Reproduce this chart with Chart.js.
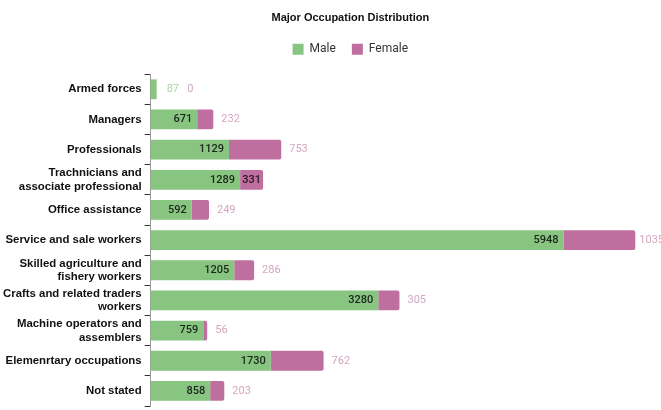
<!DOCTYPE html>
<html>
<head>
<meta charset="utf-8">
<title>Major Occupation Distribution</title>
<script src="https://cdn.jsdelivr.net/npm/chart.js@4.4.1/dist/chart.umd.min.js"></script>
<style>
  html, body { margin: 0; padding: 0; background: #fff; }
  #wrap { width: 661px; height: 410px; position: relative; }
</style>
</head>
<body>
<div id="wrap"><canvas id="occChart"></canvas></div>
<script>
const categories = [
  'Armed forces',
  'Managers',
  'Professionals',
  ['Trachnicians and', 'associate professional'],
  'Office assistance',
  'Service and sale workers',
  ['Skilled agriculture and', 'fishery workers'],
  ['Crafts and related traders', 'workers'],
  ['Machine operators and', 'assemblers'],
  'Elemenrtary occupations',
  'Not stated'
];
const maleValues = [87, 671, 1129, 1289, 592, 5948, 1205, 3280, 759, 1730, 858];
const femaleValues = [0, 232, 753, 331, 249, 1035, 286, 305, 56, 762, 203];

const GREEN = '#87c580';
const PINK = '#be6f9f';

// value labels: male at the inner end of its segment, female just past the bar
const valueLabels = {
  id: 'valueLabels',
  beforeInit(chart) {
    // extra room under the legend
    const fit = chart.legend.fit;
    chart.legend.fit = function () {
      fit.bind(chart.legend)();
      this.height += 9;
    };
  },
  afterDatasetsDraw(chart) {
    const c = chart.ctx;
    const maleMeta = chart.getDatasetMeta(0);
    const femaleMeta = chart.getDatasetMeta(1);
    const femaleInside = new Set([3]);
    c.save();
    c.textBaseline = 'middle';
    maleMeta.data.forEach((bar, i) => {
      c.font = '500 11px Roboto';
      const mText = String(maleValues[i]);
      const mw = c.measureText(mText).width;
      let maleRight;
      if (bar.x - bar.base >= mw + 10) {
        c.fillStyle = '#1d261c';
        c.textAlign = 'right';
        c.fillText(mText, bar.x - 5, bar.y);
        maleRight = bar.x;
      } else {
        c.font = '11px Roboto';
        c.fillStyle = '#a9d6a4';
        c.textAlign = 'left';
        c.fillText(mText, bar.x + 10, bar.y);
        maleRight = bar.x + 10 + mw;
      }
      const fb = femaleMeta.data[i];
      const fText = String(femaleValues[i]);
      if (femaleInside.has(i)) {
        c.font = '500 11px Roboto';
        c.fillStyle = '#2a1822';
        c.textAlign = 'center';
        c.fillText(fText, (fb.x + fb.base) / 2, fb.y);
      } else {
        c.font = '11px Roboto';
        const fw = c.measureText(fText).width;
        let x = Math.max(fb.x + 8, maleRight + 8);
        x = Math.min(x, chart.width - fw + 3);
        c.fillStyle = '#d4a6c0';
        c.textAlign = 'left';
        c.fillText(fText, x, fb.y);
      }
    });
    c.restore();
  }
};

const occChart = new Chart(document.getElementById('occChart'), {
  type: 'bar',
  data: {
    labels: categories,
    datasets: [
      {
        label: 'Male',
        data: maleValues,
        backgroundColor: GREEN,
        borderWidth: 0,
        clip: false
      },
      {
        label: 'Female',
        data: femaleValues,
        backgroundColor: PINK,
        borderWidth: 0,
        borderRadius: 2,
        borderSkipped: 'start',
        clip: false
      }
    ]
  },
  options: {
    indexAxis: 'y',
    responsive: true,
    maintainAspectRatio: false,
    animation: false,
    barPercentage: 0.8,
    categoryPercentage: 0.82,
    layout: { padding: { top: 0, right: 111, bottom: 4, left: 0 } },
    scales: {
      x: {
        stacked: true,
        display: false,
        min: 0,
        max: 5754
      },
      y: {
        stacked: true,
        afterFit(scale) {
          scale.paddingTop = 0;
          scale.paddingBottom = 0;
        },
        border: { display: true, color: '#9a9a9a', width: 1 },
        grid: { drawOnChartArea: false, tickLength: 6, color: '#333' },
        ticks: {
          color: '#111',
          padding: 3,
          autoSkip: false,
          font: { family: 'Liberation Sans', size: 11.4, weight: 'bold' }
        }
      }
    },
    plugins: {
      title: {
        display: true,
        text: 'Major Occupation Distribution',
        fullSize: false,
        color: '#111',
        font: { family: 'Liberation Sans', size: 11, weight: 'bold' },
        padding: { top: 11, bottom: 3 }
      },
      legend: {
        fullSize: false,
        labels: {
          boxWidth: 11,
          boxHeight: 11,
          color: '#333',
          padding: 16,
          font: { family: 'Roboto', size: 12 }
        }
      },
      tooltip: { enabled: false }
    }
  },
  plugins: [valueLabels]
});
</script>
</body>
</html>
